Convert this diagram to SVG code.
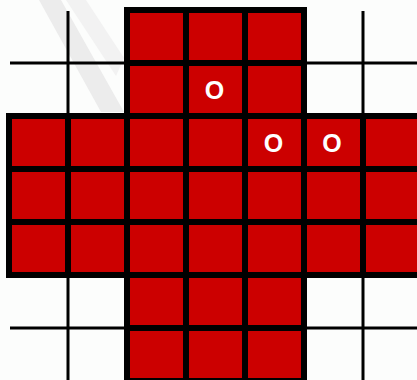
<svg xmlns="http://www.w3.org/2000/svg" width="417" height="380" viewBox="0 0 417 380">
<style>
.cell{fill:#cc0000;stroke:#000;stroke-width:6;stroke-linejoin:miter}
.thin{stroke:#000;stroke-width:3;fill:none}
.peg{font-family:"Liberation Sans",Arial,sans-serif;font-weight:bold;font-size:25px;fill:#fff;text-anchor:middle}
.wm{fill:#ececec}
</style>
<rect x="0" y="0" width="417" height="380" fill="#fcfdfc"/>
<g id="watermark">
<polygon class="wm" points="39,0 61,0 124,112 101,112"/>
<polygon points="66,0 86,0 124,58 116,76" fill="#f2f2f2"/>
</g>
<g id="connectors">
<line class="thin" x1="68" y1="11" x2="68" y2="116"/>
<line class="thin" x1="10" y1="63" x2="127" y2="63"/>
<line class="thin" x1="363" y1="11" x2="363" y2="116"/>
<line class="thin" x1="304" y1="63" x2="417" y2="63"/>
<line class="thin" x1="68" y1="275" x2="68" y2="380"/>
<line class="thin" x1="10" y1="328" x2="127" y2="328"/>
<line class="thin" x1="363" y1="275" x2="363" y2="380"/>
<line class="thin" x1="304" y1="328" x2="417" y2="328"/>
</g>
<g id="r0c2"><rect class="cell" x="127" y="10" width="59" height="53"/></g>
<g id="r0c3"><rect class="cell" x="186" y="10" width="59" height="53"/></g>
<g id="r0c4"><rect class="cell" x="245" y="10" width="59" height="53"/></g>
<g id="r1c2"><rect class="cell" x="127" y="63" width="59" height="53"/></g>
<g id="r1c3"><rect class="cell" x="186" y="63" width="59" height="53"/></g>
<g id="r1c4"><rect class="cell" x="245" y="63" width="59" height="53"/></g>
<g id="r2c0"><rect class="cell" x="9" y="116" width="59" height="53"/></g>
<g id="r2c1"><rect class="cell" x="68" y="116" width="59" height="53"/></g>
<g id="r2c2"><rect class="cell" x="127" y="116" width="59" height="53"/></g>
<g id="r2c3"><rect class="cell" x="186" y="116" width="59" height="53"/></g>
<g id="r2c4"><rect class="cell" x="245" y="116" width="59" height="53"/></g>
<g id="r2c5"><rect class="cell" x="304" y="116" width="59" height="53"/></g>
<g id="r2c6"><rect class="cell" x="363" y="116" width="59" height="53"/></g>
<g id="r3c0"><rect class="cell" x="9" y="169" width="59" height="53"/></g>
<g id="r3c1"><rect class="cell" x="68" y="169" width="59" height="53"/></g>
<g id="r3c2"><rect class="cell" x="127" y="169" width="59" height="53"/></g>
<g id="r3c3"><rect class="cell" x="186" y="169" width="59" height="53"/></g>
<g id="r3c4"><rect class="cell" x="245" y="169" width="59" height="53"/></g>
<g id="r3c5"><rect class="cell" x="304" y="169" width="59" height="53"/></g>
<g id="r3c6"><rect class="cell" x="363" y="169" width="59" height="53"/></g>
<g id="r4c0"><rect class="cell" x="9" y="222" width="59" height="53"/></g>
<g id="r4c1"><rect class="cell" x="68" y="222" width="59" height="53"/></g>
<g id="r4c2"><rect class="cell" x="127" y="222" width="59" height="53"/></g>
<g id="r4c3"><rect class="cell" x="186" y="222" width="59" height="53"/></g>
<g id="r4c4"><rect class="cell" x="245" y="222" width="59" height="53"/></g>
<g id="r4c5"><rect class="cell" x="304" y="222" width="59" height="53"/></g>
<g id="r4c6"><rect class="cell" x="363" y="222" width="59" height="53"/></g>
<g id="r5c2"><rect class="cell" x="127" y="275" width="59" height="53"/></g>
<g id="r5c3"><rect class="cell" x="186" y="275" width="59" height="53"/></g>
<g id="r5c4"><rect class="cell" x="245" y="275" width="59" height="53"/></g>
<g id="r6c2"><rect class="cell" x="127" y="328" width="59" height="53"/></g>
<g id="r6c3"><rect class="cell" x="186" y="328" width="59" height="53"/></g>
<g id="r6c4"><rect class="cell" x="245" y="328" width="59" height="53"/></g>
<g id="pegs">
<text class="peg" x="214.5" y="99">O</text>
<text class="peg" x="273.5" y="152">O</text>
<text class="peg" x="332" y="152">O</text>
</g>
</svg>
